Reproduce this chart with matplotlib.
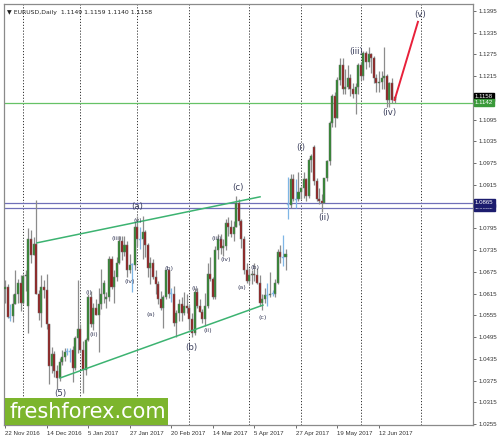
import matplotlib
matplotlib.use("Agg")
import matplotlib.pyplot as plt
import numpy as np
import pandas as pd
from matplotlib.patches import Rectangle

# ---------------- data ----------------
dates = pd.bdate_range("2016-11-22", "2017-06-20")

opens = [
    # Nov
    1.0627, 1.0632, 1.0549, 1.0553, 1.0587, 1.0615, 1.0645,
    # Dec
    1.0590, 1.0663, 1.0582, 1.0765, 1.0722, 1.0752, 1.0614, 1.0560, 1.0632, 1.0626, 1.0530,
    1.0416, 1.0449, 1.0400, 1.0382, 1.0425, 1.0440, 1.0455, 1.0456, 1.0458, 1.0410, 1.0493,
    # Jan
    1.0517, 1.0460, 1.0404, 1.0487, 1.0605, 1.0530, 1.0575, 1.0557, 1.0585, 1.0613, 1.0600,
    1.0605, 1.0710, 1.0632, 1.0660, 1.0700, 1.0760, 1.0730, 1.0750, 1.0680, 1.0695, 1.0695,
    # Feb
    1.0800, 1.0765, 1.0765, 1.0785, 1.0750, 1.0685, 1.0700, 1.0660, 1.0640, 1.0600, 1.0575,
    1.0605, 1.0680, 1.0615, 1.0615, 1.0535, 1.0560, 1.0585, 1.0560, 1.0580,
    # Mar
    1.0575, 1.0545, 1.0505, 1.0620, 1.0580, 1.0565, 1.0545, 1.0580, 1.0670, 1.0655, 1.0605,
    1.0735, 1.0765, 1.0740, 1.0745, 1.0810, 1.0800, 1.0780, 1.0800, 1.0865, 1.0815, 1.0765,
    1.0680,
    # Apr
    1.0650, 1.0665, 1.0670, 1.0665, 1.0645, 1.0590, 1.0600, 1.0610, 1.0610, 1.0615, 1.0615,
    1.0645, 1.0730, 1.0715, 1.0715, 1.0860, 1.0860, 1.0930, 1.0875, 1.0875,
    # May
    1.0895, 1.0905, 1.0930, 1.0885, 1.0985, 1.1020, 1.0925, 1.0875, 1.0870, 1.0865, 1.0935,
    1.0980, 1.1085, 1.1160, 1.1100, 1.1205, 1.1245, 1.1180, 1.1185, 1.1210, 1.1180, 1.1165,
    1.1185,
    # Jun
    1.1245, 1.1215, 1.1280, 1.1255, 1.1275, 1.1265, 1.1210, 1.1195, 1.1200, 1.1210, 1.1215,
    1.1150, 1.1195, 1.1149,
]
highs = [
    1.0652, 1.0640, 1.0585, 1.0614, 1.0680, 1.0654, 1.0665,
    1.0668, 1.0680, 1.0796, 1.0790, 1.0772, 1.0874, 1.0626, 1.0667, 1.0653, 1.0668,
    1.0532, 1.0468, 1.0456, 1.0418, 1.0438, 1.0458, 1.0465, 1.0465, 1.0465, 1.0470, 1.0498,
    1.0652,
    1.0530, 1.0485, 1.0493, 1.0615, 1.0623, 1.0590, 1.0600, 1.0630, 1.0684, 1.0652, 1.0620,
    1.0720, 1.0720, 1.0680, 1.0715, 1.0774, 1.0775, 1.0775, 1.0760, 1.0725, 1.0700, 1.0812,
    1.0829, 1.0800, 1.0830, 1.0790, 1.0755, 1.0716, 1.0710, 1.0680, 1.0650, 1.0623, 1.0610,
    1.0680, 1.0680, 1.0630, 1.0635, 1.0569, 1.0600, 1.0606, 1.0620, 1.0615,
    1.0587, 1.0560, 1.0630, 1.0630, 1.0600, 1.0573, 1.0616, 1.0700, 1.0715, 1.0660, 1.0745,
    1.0780, 1.0780, 1.0765, 1.0820, 1.0825, 1.0818, 1.0815, 1.0885, 1.0875, 1.0820, 1.0775,
    1.0700,
    1.0685, 1.0680, 1.0700, 1.0685, 1.0665, 1.0615, 1.0630, 1.0645, 1.0675, 1.0625, 1.0655,
    1.0737, 1.0750, 1.0777, 1.0738, 1.0938, 1.0946, 1.0945, 1.0930, 1.0950,
    1.0910, 1.0950, 1.0935, 1.0990, 1.1000, 1.1025, 1.0935, 1.0905, 1.0890, 1.0935, 1.0985,
    1.1090, 1.1165, 1.1170, 1.1212, 1.1265, 1.1265, 1.1235, 1.1245, 1.1220, 1.1195, 1.1195,
    1.1250,
    1.1255, 1.1285, 1.1285, 1.1296, 1.1280, 1.1270, 1.1220, 1.1230, 1.1230, 1.1296, 1.1220,
    1.1200, 1.1210, 1.1159,
]
lows = [
    1.0590, 1.0548, 1.0538, 1.0536, 1.0586, 1.0588, 1.0568,
    1.0585, 1.0621, 1.0505, 1.0700, 1.0722, 1.0614, 1.0541, 1.0522, 1.0602, 1.0516,
    1.0366, 1.0396, 1.0386, 1.0352, 1.0375, 1.0418, 1.0430, 1.0446, 1.0426, 1.0371, 1.0405,
    1.0452,
    1.0453, 1.0340, 1.0389, 1.0485, 1.0523, 1.0515, 1.0555, 1.0453, 1.0571, 1.0590, 1.0575,
    1.0595, 1.0628, 1.0590, 1.0650, 1.0697, 1.0708, 1.0720, 1.0660, 1.0673, 1.0620, 1.0680,
    1.0745, 1.0738, 1.0710, 1.0717, 1.0660, 1.0640, 1.0655, 1.0615, 1.0587, 1.0570, 1.0520,
    1.0600, 1.0603, 1.0591, 1.0525, 1.0494, 1.0540, 1.0540, 1.0555, 1.0560,
    1.0515, 1.0495, 1.0500, 1.0575, 1.0565, 1.0535, 1.0525, 1.0575, 1.0650, 1.0600, 1.0600,
    1.0710, 1.0725, 1.0720, 1.0735, 1.0775, 1.0770, 1.0760, 1.0798, 1.0805, 1.0740, 1.0670,
    1.0645,
    1.0640, 1.0640, 1.0650, 1.0640, 1.0580, 1.0570, 1.0590, 1.0580, 1.0605, 1.0608, 1.0605,
    1.0640, 1.0700, 1.0690, 1.0680, 1.0820, 1.0850, 1.0870, 1.0850, 1.0870,
    1.0875, 1.0880, 1.0870, 1.0880, 1.0950, 1.0915, 1.0870, 1.0862, 1.0840, 1.0865, 1.0925,
    1.0970, 1.1075, 1.1075, 1.1100, 1.1190, 1.1165, 1.1165, 1.1180, 1.1160, 1.1155, 1.1110,
    1.1165,
    1.1205, 1.1205, 1.1235, 1.1240, 1.1225, 1.1195, 1.1170, 1.1170, 1.1180, 1.1180, 1.1130,
    1.1130, 1.1140, 1.1140,
]
closes = [
    1.0632, 1.0549, 1.0550, 1.0587, 1.0615, 1.0645, 1.0590,
    1.0663, 1.0665, 1.0765, 1.0722, 1.0752, 1.0614, 1.0560, 1.0632, 1.0626, 1.0530,
    1.0416, 1.0449, 1.0400, 1.0382, 1.0425, 1.0440, 1.0455, 1.0456, 1.0457, 1.0410, 1.0493,
    1.0517,
    1.0460, 1.0404, 1.0487, 1.0605, 1.0530, 1.0575, 1.0557, 1.0585, 1.0613, 1.0645, 1.0605,
    1.0710, 1.0632, 1.0660, 1.0700, 1.0760, 1.0730, 1.0750, 1.0680, 1.0695, 1.0695, 1.0800,
    1.0765, 1.0765, 1.0785, 1.0750, 1.0685, 1.0700, 1.0660, 1.0640, 1.0600, 1.0575, 1.0605,
    1.0680, 1.0615, 1.0615, 1.0535, 1.0560, 1.0585, 1.0560, 1.0580, 1.0575,
    1.0545, 1.0505, 1.0620, 1.0580, 1.0565, 1.0545, 1.0580, 1.0670, 1.0655, 1.0605, 1.0735,
    1.0765, 1.0740, 1.0745, 1.0810, 1.0800, 1.0780, 1.0800, 1.0865, 1.0815, 1.0765, 1.0680,
    1.0650,
    1.0665, 1.0670, 1.0665, 1.0645, 1.0590, 1.0600, 1.0610, 1.0610, 1.0615, 1.0615, 1.0645,
    1.0730, 1.0715, 1.0715, 1.0725, 1.0860, 1.0930, 1.0875, 1.0875, 1.0895,
    1.0905, 1.0930, 1.0885, 1.0985, 1.0995, 1.0925, 1.0875, 1.0870, 1.0865, 1.0935, 1.0980,
    1.1085, 1.1160, 1.1100, 1.1205, 1.1245, 1.1180, 1.1185, 1.1210, 1.1180, 1.1165, 1.1185,
    1.1245,
    1.1215, 1.1280, 1.1255, 1.1275, 1.1265, 1.1210, 1.1195, 1.1200, 1.1210, 1.1215, 1.1150,
    1.1195, 1.1150, 1.1158,
]

title_text = "EURUSD,Daily  1.1149 1.1159 1.1140 1.1158"

ytick_values = [1.0255, 1.0315, 1.0375, 1.0435, 1.0495, 1.0555, 1.0615, 1.0675, 1.0735,
                1.0795, 1.0915, 1.0975, 1.1035, 1.1095, 1.1215, 1.1275, 1.1335, 1.1395]
xtick_idx = [0, 16, 32, 48, 64, 80, 96, 112, 128, 144]
xtick_labels = ["22 Nov 2016", "14 Dec 2016", "5 Jan 2017", "27 Jan 2017", "20 Feb 2017",
                "14 Mar 2017", "5 Apr 2017", "27 Apr 2017", "19 May 2017", "12 Jun 2017"]
separator_idx = [7, 29, 51, 71, 94, 114, 137, 160]

green_level = 1.1142
bid_level = 1.1158
blue_levels = [1.0865, 1.0852]

upper_channel = ([12.3, 98.2], [1.0755, 1.0882])
lower_channel = ([21.2, 99.3], [1.0382, 1.0583])
projection = ([150, 159], [1.1149, 1.1365])

big_labels = [("(5)", 21.2, 1.0338), ("(a)", 50.8, 1.0854), ("(b)", 71.6, 1.0465),
              ("(c)", 89.7, 1.0909), ("(i)", 114.0, 1.1017), ("(ii)", 122.8, 1.0826),
              ("(iii)", 135.2, 1.1282), ("(iv)", 147.9, 1.1116), ("(v)", 159.8, 1.1384)]
small_labels = [("(i)", 32.3, 1.0619), ("(ii)", 34.3, 1.0503), ("(iii)", 43.1, 1.0768),
                ("(iv)", 48.1, 1.0647), ("(v)", 51.2, 1.0818), ("(a)", 56.2, 1.0556),
                ("(b)", 63.2, 1.0683), ("(i)", 73.2, 1.0630), ("(ii)", 78.2, 1.0514),
                ("(iii)", 81.6, 1.0768), ("(iv)", 85.1, 1.0710), ("(a)", 91.3, 1.0633),
                ("(b)", 96.3, 1.0688), ("(c)", 99.3, 1.0548)]

# ---------------- figure ----------------
W, H = 502, 441
fig = plt.figure(figsize=(W / 100, H / 100), dpi=100)
fig.patch.set_facecolor("white")
L, R, T, B = 4, 473, 4, 425
ax = fig.add_axes([L / W, (H - B) / H, (R - L) / W, (B - T) / H])
ax.set_facecolor("white")

FONT = "Liberation Sans"
SMALL = 4.4

n = len(dates)
x = np.arange(n)
o = np.array(opens); h = np.array(highs); l = np.array(lows); c = np.array(closes)
assert len(o) == len(h) == len(l) == len(c) == n

ax.set_xlim(-0.4, 180.2)
ax.set_ylim(1.02522, 1.14142)

# separators
for s in separator_idx:
    ax.axvline(s, color="#333333", lw=0.7, ls=(0, (1.2, 1.8)), zorder=1)

# horizontal levels
ax.axhline(green_level, color="#66c266", lw=0.9, zorder=2)
for bl in blue_levels:
    ax.axhline(bl, color="#7070b8", lw=0.9, zorder=2)

# candles
up = c > o
dn = c < o
doji = np.abs(c - o) < 0.00015
wick_col = np.where(doji, "#7fb6e6", "#8c8c8c")
ax.vlines(x, l, h, colors=wick_col, lw=0.9, zorder=3)
bw = 0.78
ax.bar(x[up & ~doji], (c - o)[up & ~doji], bottom=o[up & ~doji], width=bw,
       color="#2b8a2b", edgecolor="#6f6f6f", lw=0.35, zorder=4)
ax.bar(x[dn & ~doji], (o - c)[dn & ~doji], bottom=c[dn & ~doji], width=bw,
       color="#961a1a", edgecolor="#6f6f6f", lw=0.35, zorder=4)
ax.bar(x[doji], np.full(doji.sum(), 0.00025), bottom=np.minimum(o, c)[doji] - 0.0001,
       width=bw, color="#7fb6e6", edgecolor="#7fb6e6", lw=0.3, zorder=4)

# channel + projection
ax.plot(*upper_channel, color="#3cb371", lw=1.1, zorder=5)
ax.plot(*lower_channel, color="#3cb371", lw=1.1, zorder=5)
ax.plot(*projection, color="#e8203a", lw=1.4, zorder=5)

# wave labels
for t, xi, yi in big_labels:
    ax.text(xi, yi, t, fontsize=6.2, family="DejaVu Sans", color="#3b3f5c",
            ha="center", va="center", zorder=6)
for t, xi, yi in small_labels:
    ax.text(xi, yi, t, fontsize=4.6, family="DejaVu Sans", color="#3b3f5c",
            ha="center", va="center", zorder=6)

# axes styling
for sp in ax.spines.values():
    sp.set_color("#8a8a8a")
    sp.set_linewidth(0.9)
ax.yaxis.tick_right()
ax.set_yticks(ytick_values)
ax.set_yticklabels([f"{v:.4f}" for v in ytick_values], fontsize=SMALL, family=FONT,
                   color="#333333")
ax.tick_params(axis="y", length=2.5, width=0.6, color="#555555", pad=1.5)
ax.set_xticks(xtick_idx)
ax.set_xticklabels(xtick_labels, fontsize=SMALL, family=FONT, color="#333333", ha="left")
ax.tick_params(axis="x", length=2.5, width=0.6, color="#555555", pad=1.5)

# price boxes on right
trans = ax.get_yaxis_transform()
ax.text(1.004, bid_level, f"{bid_level:.4f}", transform=trans, fontsize=SMALL, family=FONT,
        color="white", ha="left", va="center", zorder=8,
        bbox=dict(boxstyle="square,pad=0.2", fc="black", ec="black"), clip_on=False)
ax.text(1.004, green_level, f"{green_level:.4f}", transform=trans, fontsize=SMALL, family=FONT,
        color="white", ha="left", va="center", zorder=9,
        bbox=dict(boxstyle="square,pad=0.2", fc="#3a9a3a", ec="#3a9a3a"), clip_on=False)
ax.text(1.004, blue_levels[1], f"{blue_levels[1]:.4f}", transform=trans, fontsize=SMALL, family=FONT,
        color="white", ha="left", va="center", zorder=8,
        bbox=dict(boxstyle="square,pad=0.2", fc="#1c1c6e", ec="#1c1c6e"), clip_on=False)
ax.text(1.004, blue_levels[0], f"{blue_levels[0]:.4f}", transform=trans, fontsize=SMALL, family=FONT,
        color="white", ha="left", va="center", zorder=9,
        bbox=dict(boxstyle="square,pad=0.2", fc="#1c1c6e", ec="#1c1c6e"), clip_on=False)

# title
ax.text(0.006, 0.985, "\u25BC " + title_text, transform=ax.transAxes, fontsize=SMALL,
        family=["DejaVu Sans"], color="#222222", ha="left", va="top", zorder=10)

# logo
def fx(px): return px / W
def fy(py): return (H - py) / H
logo = Rectangle((fx(5), fy(425)), fx(168) - fx(5), fy(398) - fy(425),
                 transform=fig.transFigure, fc="#7cb52d", ec="none", zorder=20)
fig.add_artist(logo)
fig.text(fx(88), fy(412), "freshforex.com", fontsize=15, family="DejaVu Sans",
         color="white", ha="center", va="center", zorder=21)

fig.savefig("out.png", dpi=100, facecolor="white")
